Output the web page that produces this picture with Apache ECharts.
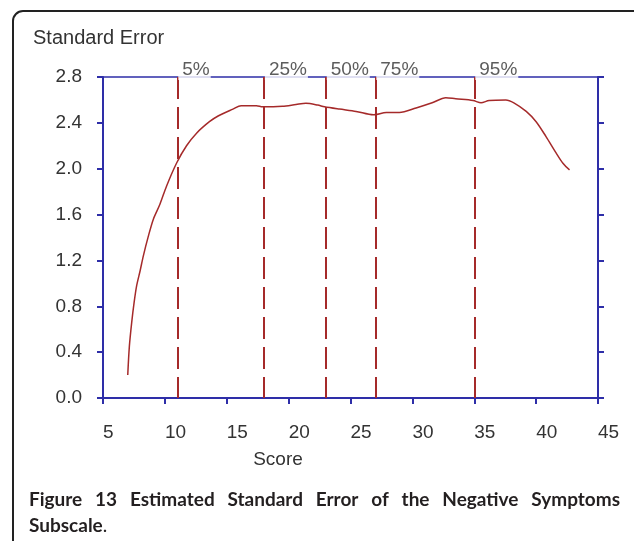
<!DOCTYPE html>
<html>
<head>
<meta charset="utf-8">
<script src="https://cdn.jsdelivr.net/npm/echarts@6/dist/echarts.min.js"></script>
<style>
html,body{margin:0;padding:0;background:#fff;}
#main{width:634px;height:541px;}
</style>
</head>
<body>
<div id="main"></div>
<script>
// standard error curve
var scores = [7.0, 7.13, 7.32, 7.51, 7.72, 8.0, 8.26, 8.66, 9.07, 9.6, 10.14, 10.95, 11.75, 12.56, 13.6, 14.3,
    15.5, 16.16, 17.4, 17.9, 19.5, 20.6, 21.4, 22.35, 22.9, 24.1, 25.45, 26.85, 27.9, 28.95,
    30.3, 31.6, 32.7, 33.5, 34.9, 35.55, 36.2, 37.55, 38.2, 39.2, 40.0, 40.8, 41.6, 42.15, 42.7];
var stdErr = [0.20, 0.45, 0.66, 0.83, 0.98, 1.11, 1.24, 1.41, 1.56, 1.69, 1.85, 2.05, 2.20, 2.31, 2.41, 2.46,
    2.52, 2.55, 2.55, 2.54, 2.545, 2.56, 2.57, 2.555, 2.54, 2.52, 2.50, 2.47, 2.49, 2.49,
    2.53, 2.575, 2.62, 2.61, 2.595, 2.575, 2.595, 2.60, 2.575, 2.50, 2.41, 2.28, 2.14, 2.05, 1.99];
// percentile markers
var pctNames = ['5%', '25%', '50%', '75%', '95%'];
var pctScores = [11, 18, 23, 27, 35];

var captionWords = ['Figure', '13', 'Estimated', 'Standard', 'Error', 'of', 'the', 'Negative', 'Symptoms'];

var axisBlue = '#2e2ea8';
var darkRed = '#a52a2a';
var labelFont = '"Liberation Sans", Arial, sans-serif';

var myChart = echarts.init(document.getElementById('main'));

var curve = [];
for (var i = 0; i < scores.length; i++) {
    curve.push([scores[i], stdErr[i]]);
}
var pctLines = [];
var pctPoints = [];
for (var j = 0; j < pctScores.length; j++) {
    pctLines.push([{coord: [pctScores[j], 2.8]}, {coord: [pctScores[j], 0]}]);
    pctPoints.push([pctScores[j], 2.8]);
}

// caption line 1 is justified, so space the words out
var ctx = document.createElement('canvas').getContext('2d');
ctx.font = 'bold 19px Lato';
var capLeft = 29, capRight = 620;
var widths = captionWords.map(function (w) { return ctx.measureText(w).width; });
var sumW = widths.reduce(function (a, b) { return a + b; }, 0);
var gap = (capRight - capLeft - sumW) / (captionWords.length - 1);
var capItems = [];
var cx = capLeft;
for (var k = 0; k < captionWords.length; k++) {
    capItems.push({
        type: 'text', left: cx, top: 490,
        style: {text: captionWords[k], font: 'bold 19px Lato', fill: '#231f20'}
    });
    cx += widths[k] + gap;
}
capItems.push({
    type: 'text', left: capLeft, top: 516,
    style: {
        text: '{b|Subscale}{r|.}',
        rich: {
            b: {font: 'bold 19px Lato', fill: '#231f20'},
            r: {font: '19px Lato', fill: '#231f20'}
        }
    }
});

var option = {
    animation: false,
    backgroundColor: '#fff',
    title: {
        text: 'Standard Error',
        left: 33, top: 28, padding: 0,
        textStyle: {fontFamily: labelFont, fontSize: 20, fontWeight: 'normal', color: '#333'}
    },
    grid: {left: 103, right: 36, top: 77, bottom: 143},
    xAxis: [{
        type: 'value', min: 5, max: 45, interval: 5,
        name: 'Score', nameLocation: 'middle', nameGap: 52,
        nameTextStyle: {fontFamily: labelFont, fontSize: 19, color: '#333', padding: [0, 145, 0, 0]},
        axisLine: {onZero: false, lineStyle: {color: axisBlue, width: 2}},
        axisTick: {show: true, length: 6, lineStyle: {color: axisBlue, width: 2}},
        axisLabel: {fontFamily: labelFont, fontSize: 19, color: '#333', margin: 25, align: 'left'},
        splitLine: {show: false}
    }, {
        type: 'value', position: 'top', min: 5, max: 45,
        axisLine: {show: true, onZero: false, lineStyle: {color: axisBlue, width: 1.5}},
        axisTick: {show: false}, axisLabel: {show: false}, splitLine: {show: false}
    }],
    yAxis: [{
        type: 'value', min: 0, max: 2.8, interval: 0.4,
        axisLine: {show: true, onZero: false, lineStyle: {color: axisBlue, width: 2}},
        axisTick: {show: true, length: 6, lineStyle: {color: axisBlue, width: 2}},
        axisLabel: {fontFamily: labelFont, fontSize: 19, color: '#333', margin: 21,
            formatter: function (v) { return v.toFixed(1); }},
        splitLine: {show: false}
    }, {
        type: 'value', position: 'right', min: 0, max: 2.8, interval: 0.4,
        axisLine: {show: true, onZero: false, lineStyle: {color: axisBlue, width: 2}},
        axisTick: {show: true, length: 6, lineStyle: {color: axisBlue, width: 2}},
        axisLabel: {show: false}, splitLine: {show: false}
    }],
    series: [{
        name: 'Standard Error',
        type: 'line',
        symbol: 'none',
        smooth: 0.3,
        lineStyle: {color: darkRed, width: 1.5},
        data: curve,
        markLine: {
            silent: true,
            symbol: 'none',
            label: {show: false},
            lineStyle: {color: darkRed, width: 2, type: [22, 8], opacity: 1},
            data: pctLines
        }
    }, {
        name: 'percentiles',
        type: 'scatter',
        symbolSize: 0,
        z: 5,
        data: pctPoints,
        label: {
            show: true,
            position: [1, -16],
            formatter: function (p) { return pctNames[p.dataIndex]; },
            fontFamily: labelFont, fontSize: 19, color: '#333',
            lineHeight: 17,
            backgroundColor: '#fff',
            padding: [0, 1, 2, 4]
        }
    }],
    graphic: [{
        type: 'rect',
        shape: {x: 13, y: 11, width: 660, height: 580, r: 10},
        style: {fill: 'none', stroke: '#222', lineWidth: 2}
    }].concat(capItems)
};
myChart.setOption(option);
</script>
</body>
</html>
